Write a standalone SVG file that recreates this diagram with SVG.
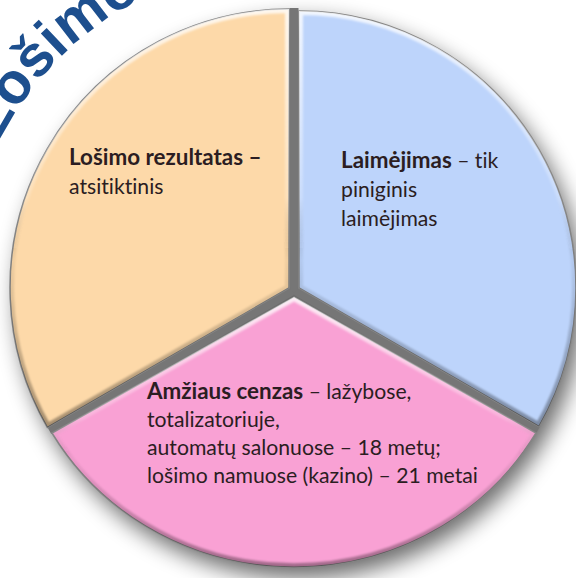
<svg xmlns="http://www.w3.org/2000/svg" width="576" height="578" viewBox="0 0 576 578">
  <defs>
    <style>
      .lbl { font-family: Lato, "Liberation Sans", Arial, sans-serif; font-size: 21.2px; fill: #2b1d22; font-variant-ligatures: none; font-feature-settings: "liga" 0, "dlig" 0; }
      .b { font-weight: bold; font-size: 22.4px; }
      .title { font-family: "Liberation Sans", Arial, sans-serif; font-weight: bold; font-size: 58px; fill: #1d4f8e; }
      .gap { stroke: #767676; stroke-width: 9; stroke-linecap: butt; fill: none; }
      .seg { stroke: #858585; stroke-width: 1.5; }
      .bev { fill: none; stroke: url(#bevel); stroke-width: 8; filter: url(#soft); }
    </style>
    <filter id="shadow" x="-20%" y="-20%" width="140%" height="140%">
      <feGaussianBlur stdDeviation="11"/>
    </filter>
    <filter id="soft" x="-5%" y="-5%" width="110%" height="110%">
      <feGaussianBlur stdDeviation="1.3"/>
    </filter>
    <linearGradient id="bevel" x1="0" y1="0" x2="0" y2="1">
      <stop offset="0" stop-color="#ffffff" stop-opacity="0.8"/>
      <stop offset="0.45" stop-color="#ffffff" stop-opacity="0.2"/>
      <stop offset="0.6" stop-color="#000000" stop-opacity="0.05"/>
      <stop offset="1" stop-color="#000000" stop-opacity="0.35"/>
    </linearGradient>
    <path id="pOrange" d="M 289 288 L 289 9 A 279 279 0 0 0 47.4 427.5 Z"/>
    <path id="pBlue" d="M 299 288 L 299 11 A 277 277 0 0 1 538.9 426.5 Z"/>
    <path id="pPink" d="M 294 297 L 536 433 A 280 270 0 0 1 52 433 Z"/>
    <clipPath id="cOrange"><use href="#pOrange"/></clipPath>
    <clipPath id="cBlue"><use href="#pBlue"/></clipPath>
    <clipPath id="cPink"><use href="#pPink"/></clipPath>
    <path id="arc" d="M -37 290 A 327 327 0 0 1 290 -37 A 327 327 0 0 1 617 290"/>
  </defs>

  <rect x="0" y="0" width="576" height="578" fill="#ffffff"/>

  <!-- drop shadow -->
  <ellipse cx="300" cy="299" rx="283" ry="279" fill="#000" opacity="0.58" filter="url(#shadow)"/>

  <!-- title on arc -->
  <g id="title">
    <text class="title"><textPath href="#arc" startOffset="154">Lošimo</textPath></text>
  </g>

  <!-- gaps between segments -->
  <g id="connectors">
    <line class="gap" x1="294" y1="8" x2="294" y2="295"/>
    <line class="gap" x1="292" y1="291" x2="49" y2="430"/>
    <line class="gap" x1="296" y1="291" x2="538" y2="430"/>
  </g>

  <g id="segment-orange">
    <use href="#pOrange" class="seg" fill="#fdd9a9"/>
    <use href="#pOrange" class="bev" clip-path="url(#cOrange)"/>
    <text class="lbl" x="69" y="165"><tspan class="b">Lošimo rezultatas –</tspan></text>
    <text class="lbl" x="69" y="194">atsitiktinis</text>
  </g>

  <g id="segment-blue">
    <use href="#pBlue" class="seg" fill="#bdd4fb"/>
    <use href="#pBlue" class="bev" clip-path="url(#cBlue)"/>
    <text class="lbl" x="341" y="168"><tspan class="b">Laimėjimas</tspan> – tik</text>
    <text class="lbl" x="341" y="197">piniginis</text>
    <text class="lbl" x="341" y="226">laimėjimas</text>
  </g>

  <g id="segment-pink">
    <use href="#pPink" class="seg" fill="#f9a1d4"/>
    <use href="#pPink" class="bev" clip-path="url(#cPink)"/>
    <text class="lbl" x="147" y="399"><tspan class="b">Amžiaus cenzas</tspan> – lažybose,</text>
    <text class="lbl" x="147" y="427">totalizatoriuje,</text>
    <text class="lbl" x="147" y="455">automatų salonuose – 18 metų;</text>
    <text class="lbl" x="147" y="483">lošimo namuose (kazino) – 21 metai</text>
  </g>
</svg>
